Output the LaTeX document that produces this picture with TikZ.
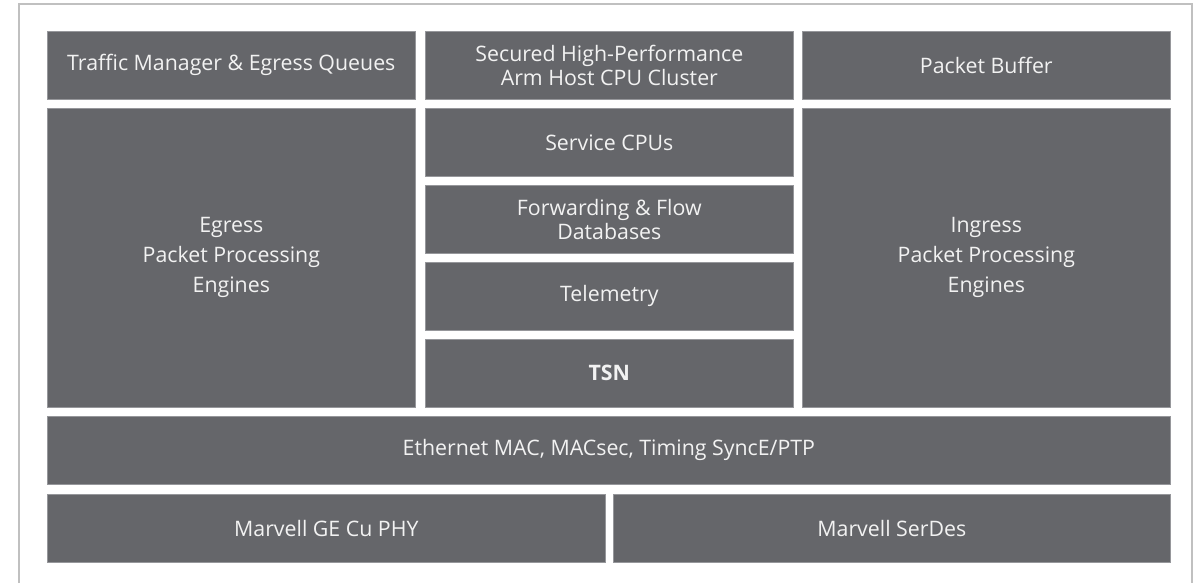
\documentclass[tikz,border=0pt]{standalone}
\usepackage{fontspec}
\setmainfont{Open Sans}
\definecolor{boxgray}{RGB}{101,102,106}
\definecolor{boxedge}{RGB}{150,151,155}
\definecolor{frameg}{RGB}{192,192,192}
\definecolor{txt}{RGB}{242,242,242}
\begin{document}
\begin{tikzpicture}[x=0.75pt,y=-0.75pt,
  blk/.style={draw=boxedge,line width=0.5pt,fill=boxgray,text=txt,font=\fontsize{16}{18.5}\selectfont,align=center,inner sep=0pt},
  tall/.style={font=\fontsize{16}{22.5}\selectfont}]
\useasboundingbox[fill=white] (0,0) rectangle (1198,583);
\draw[frameg,line width=1.5pt] (19,583) -- (19,4) -- (1192,4) -- (1192,583);
\newcommand{\blkbox}[7][]{%
  \node[blk,#1,minimum width=#5*0.75pt-#3*0.75pt,minimum height=#6*0.75pt-#4*0.75pt,anchor=north west] (#2) at (#3,#4) {#7};}
\blkbox{tm}{47}{31}{415}{99}{Traffic Manager \& Egress Queues}
\blkbox{arm}{425}{31}{793}{99}{Secured High-Performance\\Arm Host CPU Cluster}
\blkbox{pb}{802}{31}{1170}{99}{Packet Buffer}
\blkbox[tall]{egr}{47}{108}{415}{407}{Egress\\Packet Processing\\Engines}
\blkbox[tall]{ingr}{802}{108}{1170}{407}{Ingress\\Packet Processing\\Engines}
\blkbox{svc}{425}{108}{793}{176}{Service CPUs}
\blkbox{fwd}{425}{185}{793}{253}{Forwarding \& Flow\\Databases}
\blkbox{tel}{425}{262}{793}{330}{Telemetry}
\blkbox{tsn}{425}{339}{793}{407}{\textbf{TSN}}
\blkbox{eth}{47}{416}{1170}{484}{Ethernet MAC, MACsec, Timing SyncE/PTP}
\blkbox{phy}{47}{494}{605}{562}{Marvell GE Cu PHY}
\blkbox{ser}{613}{494}{1170}{562}{Marvell SerDes}
\end{tikzpicture}
\end{document}
